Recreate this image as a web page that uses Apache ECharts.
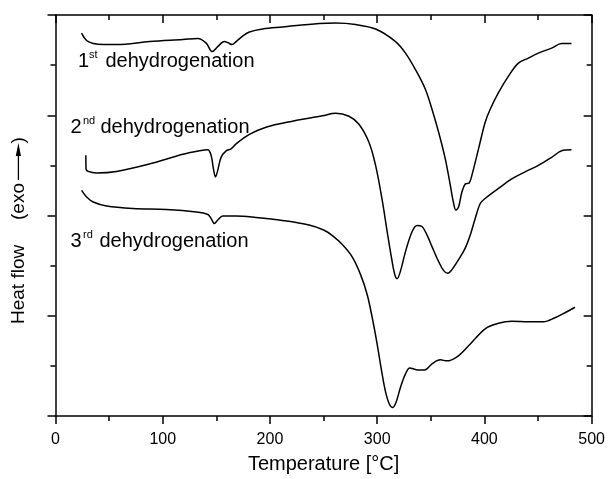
<!DOCTYPE html>
<html>
<head>
<meta charset="utf-8">
<script src="https://cdn.jsdelivr.net/npm/echarts@6/dist/echarts.min.js"></script>
<style>
html, body { margin: 0; padding: 0; background: #fff; }
#main { width: 608px; height: 479px; }
</style>
</head>
<body>
<div id="main"></div>
<script>
// temperature [°C] / heat flow (arb. units, 0..8)
var t1 = [24.3, 29.0, 35.2, 44.5, 56.8, 87.8, 118.8, 132.7, 140.5, 146.1, 151.3, 157.5, 160.6, 164.7, 168.4, 174.6, 180.8, 193.1, 211.7, 245.8, 261.3, 279.9, 298.5, 317.1, 326.4, 335.7, 344.9, 351.1, 357.3, 363.5, 368.2, 371.3, 373.4, 375.9, 379.0, 382.1, 385.8, 388.3, 394.5, 400.7, 405.4, 413.1, 422.4, 431.7, 441.0, 450.3, 462.7, 472.0, 481.2];
var h1 = [7.64, 7.49, 7.43, 7.41, 7.41, 7.47, 7.51, 7.53, 7.44, 7.27, 7.37, 7.47, 7.45, 7.41, 7.47, 7.58, 7.66, 7.72, 7.76, 7.83, 7.84, 7.81, 7.72, 7.47, 7.24, 6.91, 6.52, 6.12, 5.66, 5.13, 4.60, 4.24, 4.11, 4.17, 4.47, 4.63, 4.65, 4.80, 5.33, 5.86, 6.12, 6.45, 6.78, 7.04, 7.14, 7.24, 7.34, 7.43, 7.43];

var t2 = [28.3, 28.5, 30.5, 38.3, 56.8, 87.8, 118.8, 134.3, 142.0, 145.1, 147.3, 149.2, 151.3, 154.4, 159.1, 163.7, 168.4, 180.8, 196.3, 211.7, 230.3, 248.9, 261.3, 273.7, 283.0, 292.3, 298.5, 304.4, 309.3, 313.4, 316.4, 318.6, 321.7, 326.4, 332.6, 337.2, 341.8, 346.5, 351.1, 357.3, 362.0, 365.7, 369.7, 375.9, 382.1, 386.8, 391.4, 396.1, 400.7, 413.1, 425.5, 437.9, 450.3, 462.7, 472.0, 481.2];
var h2 = [5.20, 4.93, 4.88, 4.85, 4.88, 5.03, 5.22, 5.29, 5.31, 5.20, 4.93, 4.77, 4.90, 5.16, 5.29, 5.33, 5.43, 5.62, 5.76, 5.84, 5.92, 5.99, 6.04, 5.98, 5.82, 5.46, 5.00, 4.34, 3.68, 3.15, 2.82, 2.74, 2.89, 3.28, 3.68, 3.80, 3.78, 3.61, 3.38, 3.08, 2.90, 2.85, 2.92, 3.12, 3.35, 3.61, 3.94, 4.24, 4.34, 4.54, 4.73, 4.87, 5.00, 5.16, 5.29, 5.31];

var t3 = [24.3, 29.0, 35.2, 47.6, 72.3, 103.3, 131.2, 142.0, 145.1, 148.2, 151.3, 156.0, 168.4, 187.0, 211.7, 236.5, 250.0, 258.2, 267.5, 276.8, 284.5, 290.7, 295.4, 300.0, 304.1, 307.8, 311.5, 314.6, 317.7, 321.7, 326.4, 330.4, 337.2, 344.3, 351.1, 358.9, 365.1, 374.4, 385.2, 400.7, 413.1, 425.5, 441.0, 455.0, 465.8, 475.1, 484.4];
var h3 = [4.50, 4.37, 4.27, 4.19, 4.14, 4.12, 4.07, 4.02, 3.94, 3.84, 3.91, 3.99, 3.99, 3.96, 3.90, 3.81, 3.71, 3.60, 3.42, 3.17, 2.82, 2.42, 1.96, 1.43, 0.90, 0.48, 0.23, 0.17, 0.28, 0.57, 0.84, 0.96, 0.92, 0.92, 1.04, 1.12, 1.10, 1.18, 1.40, 1.74, 1.85, 1.89, 1.88, 1.88, 1.96, 2.06, 2.17];

var curveNames = ['1st dehydrogenation', '2nd dehydrogenation', '3rd dehydrogenation'];

function zip(xs, ys) {
    var out = [];
    for (var i = 0; i < xs.length; i++) {
        out.push([xs[i], ys[i]]);
    }
    return out;
}

var font = '"Liberation Sans", Arial, Helvetica, sans-serif';
var axisStyle = {color: '#000', width: 1.5};

function xAxisOf(pos, showLabel) {
    return {
        type: 'value', position: pos, min: 0, max: 500, interval: 100,
        axisLine: {show: true, onZero: false, lineStyle: axisStyle},
        axisTick: {show: true, inside: !showLabel, length: 8, lineStyle: axisStyle},
        minorTick: {show: true, splitNumber: 2, length: 5, lineStyle: axisStyle},
        axisLabel: {show: showLabel, color: '#000', fontSize: 16, fontFamily: font, margin: 16},
        splitLine: {show: false},
        minorSplitLine: {show: false}
    };
}
function yAxisOf(pos, outward) {
    return {
        type: 'value', position: pos, min: 0, max: 8, interval: 2,
        axisLine: {show: true, onZero: false, lineStyle: axisStyle},
        axisTick: {show: true, inside: !outward, length: 8, lineStyle: axisStyle},
        minorTick: {show: true, splitNumber: 2, length: 5, lineStyle: axisStyle},
        axisLabel: {show: false},
        splitLine: {show: false},
        minorSplitLine: {show: false}
    };
}

var xBottom = xAxisOf('bottom', true);
xBottom.name = 'Temperature [°C]';
xBottom.nameLocation = 'middle';
xBottom.nameGap = 38;
xBottom.nameTextStyle = {color: '#000', fontSize: 20, fontFamily: font};

function lineSeries(name, xs, ys) {
    return {
        name: name, type: 'line', data: zip(xs, ys),
        showSymbol: false, symbol: 'none',
        smooth: 0.35,
        lineStyle: {color: '#000', width: 1.5},
        animation: false
    };
}

// 曲线标注（序数上标分开画）
function label(num, sup, xNum, xSup, xWord, base) {
    return [
        {type: 'text', x: xNum, y: base - 7, style: {text: num, font: '20px ' + font, fill: '#000', verticalAlign: 'middle'}},
        {type: 'text', x: xSup, y: base - 12.9, style: {text: sup, font: '11px ' + font, fill: '#000', verticalAlign: 'middle'}},
        {type: 'text', x: xWord, y: base - 7, style: {text: 'dehydrogenation', font: '20px ' + font, fill: '#000', verticalAlign: 'middle'}}
    ];
}

function rotText(text, x, y) {
    return {
        type: 'text', x: x, y: y, rotation: Math.PI / 2,
        style: {text: text, font: '19px ' + font, fill: '#000', align: 'left', verticalAlign: 'middle'}
    };
}

var graphics = [].concat(
    label('1', 'st', 78, 89, 105.5, 68),
    label('2', 'nd', 70.5, 83, 100.5, 134),
    label('3', 'rd', 70.5, 83, 99.5, 248),
    [
        rotText('Heat flow', 18.4, 324),
        rotText('(exo', 18.4, 220),
        {type: 'line', shape: {x1: 18.4, y1: 180, x2: 18.4, y2: 152}, style: {stroke: '#000', lineWidth: 1.3}},
        {type: 'polygon', shape: {points: [[18.4, 143], [15.8, 156], [21, 156]]}, style: {fill: '#000'}},
        rotText(')', 18.4, 143.5)
    ]
);

var myChart = echarts.init(document.getElementById('main'));
var option = {
    backgroundColor: '#fff',
    animation: false,
    grid: {left: 55.5, right: 14.5, top: 15, bottom: 60, containLabel: false},
    xAxis: [xBottom, xAxisOf('top', false)],
    yAxis: [yAxisOf('left', true), yAxisOf('right', false)],
    series: [
        lineSeries(curveNames[0], t1, h1),
        lineSeries(curveNames[1], t2, h2),
        lineSeries(curveNames[2], t3, h3)
    ],
    graphic: graphics
};
myChart.setOption(option);
</script>
</body>
</html>
